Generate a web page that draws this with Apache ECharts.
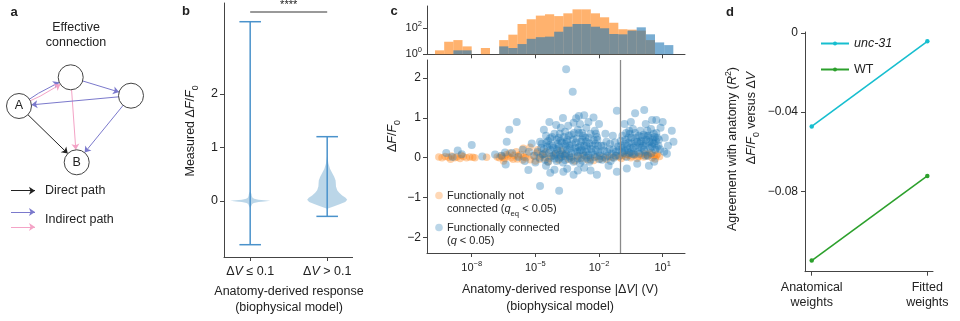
<!DOCTYPE html>
<html><head><meta charset="utf-8">
<script src="https://cdn.jsdelivr.net/npm/echarts@6/dist/echarts.min.js"></script>
<style>html,body{margin:0;padding:0;background:#fff}#c{width:960px;height:321px}</style>
</head><body><div id="c"></div><script>
// ---------- panel a : diagram ----------
const nodeNames = ['A', 'B', 'N1', 'N2'];
const nodeX = [19, 76.7, 70.7, 131];
const nodeY = [106, 162.3, 77.3, 95.7];
const edgeSrc = ['A', 'A', 'A', 'N1', 'N1', 'N2', 'N2'];
const edgeDst = ['B', 'N1', 'N1', 'N2', 'B', 'A', 'B'];
const edgeKind = ['direct', 'indirectBlue', 'indirectPink', 'indirectBlue', 'indirectPink', 'indirectBlue', 'indirectBlue'];
const legendKinds = ['direct', 'indirectBlue', 'indirectPink'];

// ---------- panel b : violins ----------
const violinCats = ['≤ 0.1', '> 0.1'];
const violinMin = [-0.82, -0.29];
const violinMax = [3.35, 1.2];
const violin1Levels = [-0.14, -0.1, -0.06, -0.04, -0.02, -0.01, 0, 0.01, 0.02, 0.04, 0.06, 0.09, 0.12, 0.15, 0.18];
const violin1Density = [0, 0.05, 0.1, 0.18, 0.42, 0.7, 1, 0.7, 0.42, 0.2, 0.12, 0.08, 0.07, 0.04, 0];
const violin2Levels = [-0.15, -0.1, -0.06, -0.02, 0.02, 0.06, 0.1, 0.15, 0.2, 0.27, 0.33, 0.38, 0.45, 0.52, 0.6, 0.7, 0.8, 0.86];
const violin2Density = [0, 0.35, 0.65, 0.9, 1, 0.92, 0.75, 0.6, 0.5, 0.44, 0.43, 0.42, 0.35, 0.25, 0.14, 0.06, 0.02, 0];
const sigLevel = 3.53;
const sigLabel = '****';

// ---------- panel c : histogram (log10 |dV| bins) ----------
const histStart = -9.73;
const histBinWidth = 0.432;
const histNotConnected = [2, 9, 12, 4, 0, 3, 0, 12, 31, 200, 460, 870, 1100, 800, 1300, 2600, 2600, 1300, 650, 250, 80, 75, 63, 12, 0, 0];
const histConnected = [0, 0, 2, 2, 0, 0, 0, 4, 3, 6, 15, 20, 22, 52, 125, 200, 200, 125, 95, 35, 33, 63, 112, 33, 8, 5];
const logTicks = [-8, -5, -2, 1];
const thresholdLog = -1;

// ---------- panel c : scatter [log10|dV|, dF/F0] ----------
const notConnectedPts = [
[-9.55,0.02],[-9.4,0.0],[-9.25,0.03],[-9.1,0.01],[-8.95,0.04],[-8.8,0.0],[-8.7,0.02],[-8.55,-0.02],[-8.4,0.03],[-8.25,0.0],[-8.1,0.02],[-7.95,0.01],[-7.85,0.0],[-9.0,-0.04],[-8.5,0.06],[-7.3,0.01],
[-6.8,0.02],[-6.6,0.05],[-6.45,-0.02],[-6.3,0.04],[-6.15,0.0],[-6.0,0.06],[-5.85,-0.03],[-5.7,0.08],[-5.55,0.02],[-5.57,0.24],[-5.4,0.1],[-5.25,0.26],[-5.25,-0.05],[-5.1,0.05],[-4.95,0.12],[-4.8,-0.04],[-4.65,0.08],[-4.5,0.15],[-4.35,-0.02],[-4.2,0.05],[-4.05,0.1],[-3.9,-0.06],[-3.75,0.03],[-3.6,0.08],[-3.45,-0.04],[-3.3,0.02],[-3.15,-0.08],[-3.0,0.04],[-2.85,-0.02],[-2.7,0.06],[-2.55,-0.05],[-2.4,0.0],[-2.25,-0.07],[-2.1,0.03],[-1.95,-0.03],[-1.8,0.02],[-1.65,-0.04],[-1.5,0.03],[-1.35,0.0],[-1.2,0.05],[-1.05,0.02],[-0.9,0.06],[-0.75,0.03],[-0.6,0.07],[-0.45,0.04],[-0.3,0.08],[-0.15,0.03],[0.0,0.06],[0.15,0.1],[0.3,0.04],[0.45,0.08],[0.6,0.05],[0.75,0.09],[0.85,0.03],
[-5.9,0.15],[-6.2,0.12],[-4.9,0.2],[-4.4,-0.1],[-3.8,0.18],[-6.5,-0.08],
[-6.7,0.0],[-6.55,0.02],[-6.35,0.08],[-6.05,-0.04],[-5.8,0.04],[-5.6,-0.06],[-5.45,0.0],[-5.0,-0.08],[-4.75,0.04],[-4.55,-0.01],[-0.95,-0.02],[-0.5,0.0],[0.1,0.02],[0.5,0.0],[0.7,0.05],[-0.2,-0.02],[0.25,0.07],[-0.7,0.08],[0.65,-0.03],[0.4,0.12]
];
const connectedPts = [
[-9.2,0.12],[-8.9,0.02],[-8.66,0.18],[-8.47,0.09],[-8.0,0.32],[-7.5,0.03],[-6.9,0.08],[-6.6,0.05],[-6.43,0.13],[-6.4,-0.17],[-6.35,0.4],[-6.23,0.7],[-5.88,0.9],[-6.1,0.12],[-5.8,0.02],[-5.6,0.2],[-5.5,-0.08],[-5.33,-0.31],[-5.3,0.15],[-5.17,0.36],[-5.05,0.05],[-5.0,-0.12],[-4.78,0.4],[-4.3,0.49],
[-4.5,0.55],[-4.1,0.6],[-3.9,0.5],[-3.6,0.65],[-3.3,0.58],[-3.0,0.7],[-2.8,0.62],[-2.6,0.75],[-2.4,0.6],[-2.2,0.68],[-3.45,0.8],[-2.9,0.85],[-2.5,0.9],[-3.8,0.75],[-2.1,0.52],
[-4.7,0.35],[-4.4,0.42],[-4.2,0.3],[-4.0,0.45],[-3.75,0.38],[-3.5,0.46],[-3.25,0.33],[-3.05,0.48],[-2.85,0.4],[-2.65,0.5],[-2.45,0.36],[-2.25,0.44],[-2.05,0.3],[-3.9,0.28],[-3.4,0.3],[-2.7,0.3],
[-4.9,0.15],[-4.6,0.22],[-4.35,0.12],[-4.15,0.25],[-3.95,0.18],[-3.7,0.2],[-3.55,0.1],[-3.35,0.24],[-3.15,0.15],[-2.95,0.26],[-2.75,0.12],[-2.55,0.22],[-2.35,0.14],[-2.15,0.2],[-1.95,0.12],[-4.45,0.28],[-3.85,0.08],[-3.0,0.05],[-2.5,0.06],[-4.05,0.1],
[-4.8,0.0],[-4.55,-0.05],[-4.25,0.03],[-4.0,-0.08],[-3.8,0.02],[-3.6,-0.06],[-3.4,0.04],[-3.2,-0.1],[-3.0,-0.02],[-2.8,-0.07],[-2.6,0.0],[-2.4,-0.05],[-2.2,0.02],[-2.0,-0.04],[-3.7,-0.12],[-2.9,-0.14],
[-4.5,-0.2],[-4.1,-0.3],[-3.68,-0.35],[-3.2,-0.43],[-2.7,-0.25],[-2.1,-0.43],[-4.78,-0.71],[-3.88,-0.83],[-3.5,-0.28],[-2.4,-0.32],[-4.3,-0.38],[-3.0,-0.32],
[-3.55,2.22],[-3.24,1.66],[-4.34,0.9],[-4.02,0.82],[-2.7,1.07],[-2.26,1.01],[-3.08,0.99],[-3.2,0.88],[-2.95,1.05],[-4.6,0.7],[-2.0,0.85],[-3.7,1.0],
[-4.65,0.08],[-4.3,0.2],[-3.95,0.35],[-3.65,0.52],[-3.3,0.12],[-3.1,0.38],[-2.9,0.18],[-2.6,0.4],[-2.3,0.3],[-2.05,0.15],[-4.1,-0.02],[-3.5,0.2],[-2.75,0.55],[-3.85,0.6],[-2.45,-0.1],[-3.3,-0.05],[-4.4,-0.1],[-2.15,0.6],[-3.6,0.35],[-2.95,0.62],
[-4.72,0.25],[-4.58,0.1],[-4.48,0.38],[-4.22,0.52],[-4.12,0.05],[-3.98,0.22],[-3.82,0.42],[-3.72,0.1],[-3.58,0.28],[-3.42,0.55],[-3.38,0.0],[-3.22,0.45],[-3.12,0.25],[-3.02,0.15],[-2.88,0.3],[-2.78,0.45],[-2.68,0.05],[-2.58,0.3],[-2.48,0.5],[-2.38,0.22],[-2.28,0.08],[-2.18,0.35],[-2.08,0.45],[-3.62,0.05],[-3.52,0.4],[-3.18,0.62],[-2.82,0.2],[-4.32,0.32],[-3.88,-0.02],[-2.62,0.15],
[-1.9,0.3],[-1.75,0.18],[-1.6,0.05],[-1.5,0.22],[-1.4,0.1],[-1.3,0.0],[-1.2,0.15],[-1.1,0.28],[-1.85,-0.05],[-1.65,0.4],[-1.45,-0.08],[-1.25,0.38],[-1.16,1.18],[-1.7,0.6],[-1.35,0.55],[-1.05,0.05],[-1.55,-0.2],[-1.16,-0.35],
[-1.95,0.05],[-1.8,0.3],[-1.62,0.15],[-1.48,0.35],[-1.32,0.2],[-1.22,0.05],[-1.08,0.2],[-1.7,0.0],
[-0.95,0.3],[-0.85,0.12],[-0.75,0.45],[-0.65,0.2],[-0.55,0.6],[-0.45,0.35],[-0.35,0.08],[-0.25,0.5],[-0.15,0.25],[-0.05,0.68],[0.05,0.4],[0.15,0.15],[0.25,0.55],[0.35,0.3],[0.45,0.72],[0.55,0.45],[0.65,0.2],[0.75,0.5],[-0.9,0.55],[-0.7,0.02],[-0.5,0.15],[-0.3,0.62],[-0.1,0.1],[0.1,0.58],[0.3,0.05],[0.5,0.28],[0.7,0.62],[-0.6,0.38],[-0.2,0.4],[0.2,0.35],[0.4,0.5],[0.6,0.35],[0.0,0.25],[-0.4,0.72],[0.8,0.3],[-0.8,0.35],
[-0.92,0.15],[-0.72,0.62],[-0.52,0.25],[-0.32,0.42],[-0.12,0.55],[0.08,0.3],[0.28,0.68],[0.48,0.12],[0.68,0.42],[-0.42,0.1],[-0.02,0.42],[0.38,0.4],[-0.62,0.5],[0.18,0.05],[0.58,0.6],
[-0.98,0.42],[-0.88,0.25],[-0.78,0.18],[-0.68,0.3],[-0.58,0.12],[-0.48,0.5],[-0.38,0.25],[-0.28,0.3],[-0.18,0.15],[-0.08,0.35],[0.02,0.52],[0.12,0.2],[0.22,0.45],[0.32,0.55],[0.42,0.25],[0.52,0.38],[0.62,0.52],[0.72,0.25],[0.82,0.45],[-0.58,0.68],
[0.13,1.2],[-0.3,1.12],[1.43,0.68],[1.51,0.4],[0.88,0.21],[1.07,0.15],[-0.69,-0.27],[0.9,0.75],[1.1,0.5],[1.25,0.3],[0.5,0.95],[-0.5,0.9],[0.2,0.85],[1.0,0.9],[0.7,0.95],[-0.2,-0.15],[0.6,-0.1],[1.2,0.1],[-0.8,0.85],[0.35,-0.2]
];

// ---------- panel d ----------
const dCats = ['Anatomical\nweights', 'Fitted\nweights'];
const unc31Vals = [-0.0472, -0.0042];
const wtVals = [-0.115, -0.0722];
const dTicks = [0, -0.04, -0.08];

// ================= rendering =================
const F = 'Liberation Sans, Arial, Helvetica, sans-serif';
const TXT = '#222';
const AX = '#444';
const kindColor = { direct: '#222222', indirectBlue: '#7b79cc', indirectPink: '#f4a3c6' };
const CYAN = '#17becf', GREEN = '#2ca02c';

function rich(fs) {
  return {
    n: { fontSize: fs, fontFamily: F, color: TXT, fill: TXT, lineHeight: 18 },
    i: { fontSize: fs, fontFamily: F, color: TXT, fill: TXT, fontStyle: 'italic', lineHeight: 18 },
    s: { fontSize: fs * 0.7, fontFamily: F, color: TXT, fill: TXT, verticalAlign: 'bottom' },
    p: { fontSize: fs * 0.7, fontFamily: F, color: TXT, fill: TXT, verticalAlign: 'top' }
  };
}
function txt(x, y, text, o) {
  o = o || {};
  return {
    type: 'text', x: x, y: y, rotation: o.rot || 0, silent: true,
    style: {
      text: text, fontSize: o.fs || 12.5, fontFamily: F, fill: o.fill || TXT,
      fontWeight: o.bold ? 'bold' : 'normal',
      align: o.align || 'center', verticalAlign: 'middle', rich: rich(o.fs || 12.5)
    }
  };
}
const logFmt = v => '{b|10}{p|' + (v < 0 ? '−' : '') + Math.abs(v) + '}';
const logRich = {
  b: { fontSize: 11, fontFamily: F, color: TXT, lineHeight: 16 },
  p: { fontSize: 7.5, fontFamily: F, color: TXT, verticalAlign: 'top' }
};
const minus = v => (v < 0 ? '−' + String(-v) : String(v));
const axLine = { show: true, onZero: false, lineStyle: { color: AX, width: 1 } };
const tick = vals => ({ show: true, length: 4, customValues: vals, lineStyle: { color: AX, width: 1 } });

const violinLevels = [violin1Levels, violin2Levels];
const violinDensity = [violin1Density, violin2Density];
const VHALF = 0.26, CAP = 0.14;

const option = {
  animation: false,
  backgroundColor: '#fff',
  textStyle: { fontFamily: F },
  grid: [
    { left: 0, top: 0, width: 160, height: 321 },
    { left: 224, top: 3, width: 128.6, height: 254 },
    { left: 427, top: 6, width: 258, height: 48.3 },
    { left: 427, top: 60, width: 258, height: 193 },
    { left: 805, top: 32, width: 128, height: 239.7 }
  ],
  xAxis: [
    { gridIndex: 0, type: 'value', min: 0, max: 160, show: false },
    { gridIndex: 1, type: 'value', min: -0.34, max: 1.33, axisLine: axLine, axisTick: tick([0, 1]), splitLine: { show: false },
      axisLabel: { customValues: [0, 1], margin: 6, formatter: v => '{n|Δ}{i|V}{n| ' + violinCats[v] + '}', rich: rich(12.5) } },
    { gridIndex: 2, type: 'value', min: -10.108, max: 2.052, axisLine: axLine, axisTick: tick(logTicks), splitLine: { show: false },
      axisLabel: { show: false } },
    { gridIndex: 3, type: 'value', min: -10.108, max: 2.052, axisLine: axLine, axisTick: tick(logTicks), splitLine: { show: false },
      axisLabel: { customValues: logTicks, margin: 7, formatter: logFmt, rich: logRich } },
    { gridIndex: 4, type: 'value', min: -0.058, max: 1.049, axisLine: axLine, axisTick: tick([0, 1]), splitLine: { show: false },
      axisLabel: { customValues: [0, 1], margin: 8, formatter: v => dCats[v], fontSize: 12.5, lineHeight: 15, color: TXT, fontFamily: F } }
  ],
  yAxis: [
    { gridIndex: 0, type: 'value', min: 0, max: 321, inverse: true, show: false },
    { gridIndex: 1, type: 'value', min: -1.05, max: 3.7, axisLine: axLine, axisTick: tick([0, 1, 2]), splitLine: { show: false },
      axisLabel: { customValues: [0, 1, 2], margin: 6, fontSize: 12.5, color: TXT, fontFamily: F } },
    { gridIndex: 2, type: 'value', min: 0, max: 3.67, axisLine: axLine, axisTick: tick([0, 2]), splitLine: { show: false },
      axisLabel: { customValues: [0, 2], margin: 5, formatter: logFmt, rich: logRich } },
    { gridIndex: 3, type: 'value', min: -2.394, max: 2.455, axisLine: axLine, axisTick: tick([-2, -1, 0, 1, 2]), splitLine: { show: false },
      axisLabel: { customValues: [-2, -1, 0, 1, 2], margin: 6, fontSize: 12, color: TXT, fontFamily: F, formatter: minus } },
    { gridIndex: 4, type: 'value', min: -0.1206, max: 0.0005, axisLine: axLine, axisTick: tick(dTicks), splitLine: { show: false },
      axisLabel: { customValues: dTicks, margin: 7, fontSize: 12, color: TXT, fontFamily: F, formatter: minus } }
  ],
  legend: [{
    data: ['unc-31', 'WT'], orient: 'vertical', left: 815, top: 32, itemWidth: 28, itemHeight: 5, itemGap: 13,
    textStyle: { fontSize: 12.5, color: TXT, fontFamily: F, rich: { i: { fontStyle: 'italic', fontSize: 12.5, fontFamily: F, color: TXT } } },
    formatter: n => (n === 'unc-31' ? '{i|unc-31}' : n), selectedMode: false
  }],
  series: [
    { type: 'graph', coordinateSystem: 'cartesian2d', xAxisIndex: 0, yAxisIndex: 0, silent: true,
      symbol: 'circle', symbolSize: 25,
      itemStyle: { color: '#fff', borderColor: '#444', borderWidth: 1 },
      label: { show: true, position: 'inside', color: TXT, fontSize: 12.5, fontFamily: F, formatter: p => (p.name.length === 1 ? p.name : '') },
      edgeSymbol: ['none', 'arrow'], edgeSymbolSize: [0, 6],
      lineStyle: { opacity: 1, width: 1 },
      emphasis: { disabled: true },
      data: nodeNames.map((n, i) => ({ name: n, value: [nodeX[i], nodeY[i]] })),
      links: edgeSrc.map((s, i) => ({ source: s, target: edgeDst[i],
        lineStyle: { color: kindColor[edgeKind[i]], opacity: 1, width: 1,
          curveness: edgeKind[i] === 'indirectPink' && s === 'A' ? -0.06 : (edgeKind[i] === 'indirectBlue' && edgeDst[i] === 'N1' ? 0.06 : 0) } })),
      z: 3 },
    { type: 'lines', coordinateSystem: 'cartesian2d', xAxisIndex: 0, yAxisIndex: 0, silent: true,
      symbol: ['none', 'arrow'], symbolSize: 6,
      data: legendKinds.map((k, i) => ({ coords: [[11, [190.7, 212, 227][i]], [35, [190.7, 212, 227][i]]], lineStyle: { color: kindColor[k], width: 1, opacity: 1 } })) },
    { type: 'custom', xAxisIndex: 1, yAxisIndex: 1, silent: true, data: [[0], [1]],
      renderItem: (params, api) => {
        const i = params.dataIndex, cx = api.value(0);
        const L = violinLevels[i], D = violinDensity[i];
        const right = L.map((y, k) => api.coord([cx + D[k] * VHALF, y]));
        const left = L.map((y, k) => api.coord([cx - D[k] * VHALF, y])).reverse();
        const top = api.coord([cx, violinMax[i]]), bot = api.coord([cx, violinMin[i]]);
        const tl = api.coord([cx - CAP, violinMax[i]]), tr = api.coord([cx + CAP, violinMax[i]]);
        const bl = api.coord([cx - CAP, violinMin[i]]), br = api.coord([cx + CAP, violinMin[i]]);
        const st = { stroke: '#4a92cb', lineWidth: 1.5 };
        return { type: 'group', children: [
          { type: 'polygon', shape: { points: right.concat(left) }, style: { fill: 'rgba(31,119,180,0.3)' } },
          { type: 'line', shape: { x1: top[0], y1: top[1], x2: bot[0], y2: bot[1] }, style: st },
          { type: 'line', shape: { x1: tl[0], y1: tl[1], x2: tr[0], y2: tr[1] }, style: st },
          { type: 'line', shape: { x1: bl[0], y1: bl[1], x2: br[0], y2: br[1] }, style: st }
        ] };
      } },
    { type: 'custom', xAxisIndex: 1, yAxisIndex: 1, silent: true, clip: false, data: [[0, 1, sigLevel]],
      renderItem: (params, api) => {
        const a = api.coord([api.value(0), api.value(2)]), b = api.coord([api.value(1), api.value(2)]);
        return { type: 'group', children: [
          { type: 'line', shape: { x1: a[0], y1: a[1], x2: b[0], y2: b[1] }, style: { stroke: '#777', lineWidth: 1.5 } },
          { type: 'text', x: (a[0] + b[0]) / 2, y: a[1] - 2, style: { text: sigLabel, fontSize: 11, fontFamily: F, fill: TXT, align: 'center', verticalAlign: 'bottom' } }
        ] };
      } },
    ...[[histNotConnected, 'rgba(255,127,14,0.6)'], [histConnected, 'rgba(31,119,180,0.6)']].map(([arr, col]) => ({
      type: 'custom', xAxisIndex: 2, yAxisIndex: 2, silent: true,
      data: arr.map((c, i) => [histStart + i * histBinWidth, c > 0 ? Math.log10(c) : 0]),
      renderItem: (params, api) => {
        const x0 = api.value(0), h = api.value(1);
        if (h <= 0) return null;
        const p0 = api.coord([x0, h]), p1 = api.coord([x0 + histBinWidth, 0]);
        return { type: 'rect', shape: { x: p0[0], y: p0[1], width: p1[0] - p0[0], height: p1[1] - p0[1] }, style: { fill: col } };
      } })),
    { type: 'scatter', xAxisIndex: 3, yAxisIndex: 3, silent: true, symbolSize: 7.5, data: notConnectedPts,
      itemStyle: { color: 'rgba(255,127,14,0.45)' } },
    { type: 'scatter', xAxisIndex: 3, yAxisIndex: 3, silent: true, symbolSize: 8, data: connectedPts,
      itemStyle: { color: 'rgba(31,119,180,0.45)' },
      markLine: { silent: true, symbol: 'none', label: { show: false }, lineStyle: { color: '#8a8a8a', width: 1.3, type: 'solid' },
        data: [{ xAxis: thresholdLog }] } },
    { name: 'unc-31', type: 'line', xAxisIndex: 4, yAxisIndex: 4, silent: true, symbol: 'circle', symbolSize: 4.5,
      data: unc31Vals.map((v, i) => [i, v]), lineStyle: { color: CYAN, width: 1.6 }, itemStyle: { color: CYAN } },
    { name: 'WT', type: 'line', xAxisIndex: 4, yAxisIndex: 4, silent: true, symbol: 'circle', symbolSize: 4.5,
      data: wtVals.map((v, i) => [i, v]), lineStyle: { color: GREEN, width: 1.6 }, itemStyle: { color: GREEN } }
  ],
  graphic: [
    txt(14, 12, 'a', { bold: true, fs: 13 }),
    txt(186, 11, 'b', { bold: true, fs: 13 }),
    txt(394, 11, 'c', { bold: true, fs: 13 }),
    txt(730, 12, 'd', { bold: true, fs: 13 }),
    txt(76, 28, 'Effective'),
    txt(76, 43, 'connection'),
    txt(45, 190.7, 'Direct path', { align: 'left' }),
    txt(45, 220, 'Indirect path', { align: 'left' }),
    txt(191, 131, '{n|Measured Δ}{i|F}{n|/}{i|F}{s|0}', { rot: Math.PI / 2 }),
    txt(289, 292, 'Anatomy-derived response'),
    txt(289, 308, '(biophysical model)'),
    txt(393, 136, '{n|Δ}{i|F}{n|/}{i|F}{s|0}', { rot: Math.PI / 2 }),
    txt(560, 290, '{n|Anatomy-derived response |Δ}{i|V}{n|| (V)}'),
    txt(560, 307, '(biophysical model)'),
    { type: 'circle', shape: { cx: 439, cy: 195.5, r: 3.8 }, style: { fill: 'rgba(255,127,14,0.3)' }, silent: true },
    { type: 'circle', shape: { cx: 439, cy: 227.5, r: 3.8 }, style: { fill: 'rgba(31,119,180,0.3)' }, silent: true },
    txt(447, 196, 'Functionally not', { align: 'left', fs: 11 }),
    txt(447, 209, '{n|connected (}{i|q}{s|eq}{n| < 0.05)}', { align: 'left', fs: 11 }),
    txt(447, 228, 'Functionally connected', { align: 'left', fs: 11 }),
    txt(447, 241, '{n|(}{i|q}{n| < 0.05)}', { align: 'left', fs: 11 }),
    txt(733, 149, '{n|Agreement with anatomy (}{i|R}{p|2}{n|)}', { rot: Math.PI / 2 }),
    txt(752, 118, '{n|Δ}{i|F}{n|/}{i|F}{s|0}{n| versus Δ}{i|V}', { rot: Math.PI / 2 })
  ]
};
const chart = echarts.init(document.getElementById('c'));
chart.setOption(option);
</script></body></html>
